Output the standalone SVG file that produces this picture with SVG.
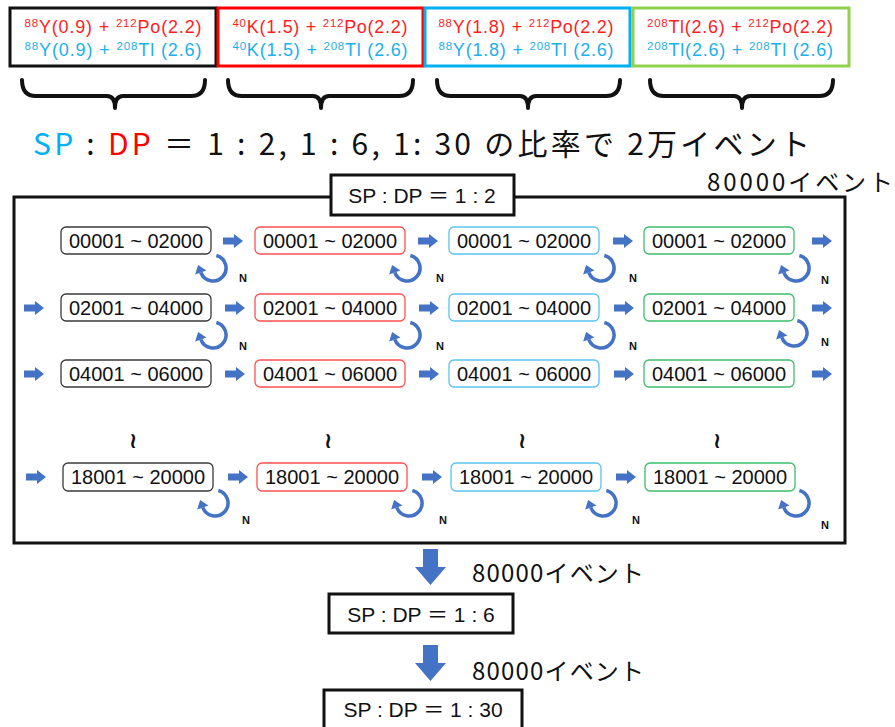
<svg xmlns="http://www.w3.org/2000/svg" xmlns:xlink="http://www.w3.org/1999/xlink" width="895" height="727" viewBox="0 0 895 727">
<style>
text{font-family:"Liberation Sans","Noto Sans CJK JP",sans-serif}
.jp{font-family:"Noto Sans CJK JP","Noto Sans",sans-serif}
.top{font-size:18px;text-anchor:middle}
.sup{font-size:11.5px}
.r{fill:#FF1E1E}
.b{fill:#1CB0EC}
.rng{font-size:20px;text-anchor:middle;fill:#111}
.nd{fill:#fff;stroke-width:1.3}
.c1{stroke:#3a3a3a}.c2{stroke:#FF5050}.c3{stroke:#5BC2F0}.c4{stroke:#3DBE6A}
.n{font-size:11px;font-weight:bold;text-anchor:middle;fill:#111}
.brace{fill:none;stroke:#111;stroke-width:4;stroke-linecap:round;stroke-linejoin:round}
.lbl{font-size:21px;text-anchor:middle;fill:#111}
.wave{font-size:22px;font-weight:bold;text-anchor:middle;fill:#111;font-family:"DejaVu Sans",sans-serif}
</style>
<defs>
<path id="ra" d="M0,-3.5 H11 V-7 L20,0 L11,7 V3.5 H0 Z" fill="#4472C4"/>
<g id="loop">
<path d="M3.36,-12.56 A13 13 0 1 1 -12.2,4.45" fill="none" stroke="#4472C4" stroke-width="3.5"/>
<polygon points="-14.9,-3.07 -6.56,2.4 -17.84,6.5" fill="#4472C4"/>
</g>
<path id="da" d="M8,0 H23 V18 H31 L15.5,36 L0,18 H8 Z" fill="#4472C4"/>
</defs>

<!-- top source boxes -->
<g id="src1">
<rect x="10" y="8" width="206" height="58" fill="#fff" stroke="#111" stroke-width="3"/>
<text class="top r" x="113" y="33" textLength="177" lengthAdjust="spacing"><tspan class="sup" dy="-6">88</tspan><tspan dy="6">Y(0.9) + </tspan><tspan class="sup" dy="-6">212</tspan><tspan dy="6">Po(2.2)</tspan></text>
<text class="top b" x="113" y="56" textLength="177" lengthAdjust="spacing"><tspan class="sup" dy="-6">88</tspan><tspan dy="6">Y(0.9) + </tspan><tspan class="sup" dy="-6">208</tspan><tspan dy="6">Tl (2.6)</tspan></text>
</g>
<g id="src2">
<rect x="218" y="8" width="205" height="58" fill="#fff" stroke="#FF0000" stroke-width="3"/>
<text class="top r" x="320" y="33" textLength="175" lengthAdjust="spacing"><tspan class="sup" dy="-6">40</tspan><tspan dy="6">K(1.5) + </tspan><tspan class="sup" dy="-6">212</tspan><tspan dy="6">Po(2.2)</tspan></text>
<text class="top b" x="320" y="56" textLength="175" lengthAdjust="spacing"><tspan class="sup" dy="-6">40</tspan><tspan dy="6">K(1.5) + </tspan><tspan class="sup" dy="-6">208</tspan><tspan dy="6">Tl (2.6)</tspan></text>
</g>
<g id="src3">
<rect x="425" y="8" width="205" height="58" fill="#fff" stroke="#00B0F0" stroke-width="3"/>
<text class="top r" x="526" y="33" textLength="175" lengthAdjust="spacing"><tspan class="sup" dy="-6">88</tspan><tspan dy="6">Y(1.8) + </tspan><tspan class="sup" dy="-6">212</tspan><tspan dy="6">Po(2.2)</tspan></text>
<text class="top b" x="526" y="56" textLength="175" lengthAdjust="spacing"><tspan class="sup" dy="-6">88</tspan><tspan dy="6">Y(1.8) + </tspan><tspan class="sup" dy="-6">208</tspan><tspan dy="6">Tl (2.6)</tspan></text>
</g>
<g id="src4">
<rect x="633" y="8" width="216" height="58" fill="#fff" stroke="#92D050" stroke-width="3"/>
<text class="top r" x="740" y="33" textLength="186" lengthAdjust="spacing"><tspan class="sup" dy="-6">208</tspan><tspan dy="6">Tl(2.6) + </tspan><tspan class="sup" dy="-6">212</tspan><tspan dy="6">Po(2.2)</tspan></text>
<text class="top b" x="740" y="56" textLength="186" lengthAdjust="spacing"><tspan class="sup" dy="-6">208</tspan><tspan dy="6">Tl(2.6) + </tspan><tspan class="sup" dy="-6">208</tspan><tspan dy="6">Tl (2.6)</tspan></text>
</g>

<!-- braces -->
<g id="braces">
<path class="brace" d="M22,80 Q22,96 36,96 H107 Q115,96 115,108 Q115,96 123,96 H191 Q205,96 205,80"/>
<path class="brace" d="M228,80 Q228,96 242,96 H313 Q321,96 321,108 Q321,96 329,96 H399 Q413,96 413,80"/>
<path class="brace" d="M437,80 Q437,96 451,96 H520 Q528,96 528,108 Q528,96 536,96 H606 Q620,96 620,80"/>
<path class="brace" d="M650,80 Q650,96 664,96 H734 Q742,96 742,108 Q742,96 750,96 H819 Q833,96 833,80"/>
</g>

<!-- title -->
<g id="title">
<text class="jp" x="33" y="155" font-size="30" fill="#111" textLength="777" lengthAdjust="spacing"><tspan fill="#00B0F0">SP</tspan> : <tspan fill="#FF0000">DP</tspan> ＝ 1 : 2, 1 : 6, 1: 30 の比率で 2万イベント</text>
</g>

<!-- main container -->
<g id="container">
<rect x="14" y="197" width="831" height="346" fill="none" stroke="#111" stroke-width="3"/>
</g>
<g id="label12">
<rect x="331" y="175" width="183" height="40" fill="#fff" stroke="#111" stroke-width="3"/>
<text class="lbl" x="422" y="203">SP : DP ＝ 1 : 2</text>
</g>
<text class="jp" x="707" y="191" font-size="24" fill="#111" textLength="186" lengthAdjust="spacing">80000イベント</text>

<!-- connectors -->
<g id="connectors">
<use xlink:href="#ra" x="223" y="241"/>
<use xlink:href="#ra" x="418" y="241"/>
<use xlink:href="#ra" x="613" y="241"/>
<use xlink:href="#ra" x="812" y="241"/>
<use xlink:href="#ra" x="24" y="308"/>
<use xlink:href="#ra" x="225" y="308"/>
<use xlink:href="#ra" x="419" y="308"/>
<use xlink:href="#ra" x="614" y="308"/>
<use xlink:href="#ra" x="812" y="308"/>
<use xlink:href="#ra" x="24" y="374"/>
<use xlink:href="#ra" x="225" y="374"/>
<use xlink:href="#ra" x="419" y="374"/>
<use xlink:href="#ra" x="614" y="374"/>
<use xlink:href="#ra" x="812" y="374"/>
<use xlink:href="#ra" x="26" y="477"/>
<use xlink:href="#ra" x="228" y="477"/>
<use xlink:href="#ra" x="422" y="477"/>
<use xlink:href="#ra" x="616" y="477"/>
<use xlink:href="#loop" x="213" y="268"/>
<use xlink:href="#loop" x="407" y="268"/>
<use xlink:href="#loop" x="601" y="268"/>
<use xlink:href="#loop" x="796" y="268"/>
<use xlink:href="#loop" x="213" y="335"/>
<use xlink:href="#loop" x="407" y="335"/>
<use xlink:href="#loop" x="601" y="335"/>
<use xlink:href="#loop" x="794" y="333"/>
<use xlink:href="#loop" x="215" y="503"/>
<use xlink:href="#loop" x="409" y="503"/>
<use xlink:href="#loop" x="603" y="503"/>
<use xlink:href="#loop" x="796" y="503"/>
<text class="n" x="243" y="282">N</text>
<text class="n" x="440" y="282">N</text>
<text class="n" x="633" y="282">N</text>
<text class="n" x="825" y="284">N</text>
<text class="n" x="243" y="350">N</text>
<text class="n" x="440" y="350">N</text>
<text class="n" x="633" y="350">N</text>
<text class="n" x="825" y="346">N</text>
<text class="n" x="246" y="524">N</text>
<text class="n" x="443" y="524">N</text>
<text class="n" x="636" y="524">N</text>
<text class="n" x="825" y="529">N</text>
<use xlink:href="#da" x="415" y="549"/>
<use xlink:href="#da" x="415" y="645"/>
</g>

<!-- nodes row 1 -->
<g id="r1c1"><rect class="nd c1" x="61" y="227" width="150" height="27" rx="5"/><text class="rng" x="136" y="248">00001 ~ 02000</text></g>
<g id="r1c2"><rect class="nd c2" x="255" y="227" width="150" height="27" rx="5"/><text class="rng" x="330" y="248">00001 ~ 02000</text></g>
<g id="r1c3"><rect class="nd c3" x="449" y="227" width="150" height="27" rx="5"/><text class="rng" x="524" y="248">00001 ~ 02000</text></g>
<g id="r1c4"><rect class="nd c4" x="644" y="227" width="150" height="27" rx="5"/><text class="rng" x="719" y="248">00001 ~ 02000</text></g>
<!-- row 2 -->
<g id="r2c1"><rect class="nd c1" x="61" y="294" width="150" height="27" rx="5"/><text class="rng" x="136" y="315">02001 ~ 04000</text></g>
<g id="r2c2"><rect class="nd c2" x="255" y="294" width="150" height="27" rx="5"/><text class="rng" x="330" y="315">02001 ~ 04000</text></g>
<g id="r2c3"><rect class="nd c3" x="449" y="294" width="150" height="27" rx="5"/><text class="rng" x="524" y="315">02001 ~ 04000</text></g>
<g id="r2c4"><rect class="nd c4" x="644" y="294" width="150" height="27" rx="5"/><text class="rng" x="719" y="315">02001 ~ 04000</text></g>
<!-- row 3 -->
<g id="r3c1"><rect class="nd c1" x="61" y="360" width="150" height="27" rx="5"/><text class="rng" x="136" y="381">04001 ~ 06000</text></g>
<g id="r3c2"><rect class="nd c2" x="255" y="360" width="150" height="27" rx="5"/><text class="rng" x="330" y="381">04001 ~ 06000</text></g>
<g id="r3c3"><rect class="nd c3" x="449" y="360" width="150" height="27" rx="5"/><text class="rng" x="524" y="381">04001 ~ 06000</text></g>
<g id="r3c4"><rect class="nd c4" x="644" y="360" width="150" height="27" rx="5"/><text class="rng" x="719" y="381">04001 ~ 06000</text></g>
<!-- ellipsis marks -->
<g id="waves">
<text class="wave" x="133" y="448">≀</text>
<text class="wave" x="328" y="448">≀</text>
<text class="wave" x="522" y="448">≀</text>
<text class="wave" x="717" y="448">≀</text>
</g>
<!-- row 4 -->
<g id="r4c1"><rect class="nd c1" x="63" y="463" width="150" height="28" rx="5"/><text class="rng" x="138" y="484">18001 ~ 20000</text></g>
<g id="r4c2"><rect class="nd c2" x="257" y="463" width="150" height="28" rx="5"/><text class="rng" x="332" y="484">18001 ~ 20000</text></g>
<g id="r4c3"><rect class="nd c3" x="451" y="463" width="150" height="28" rx="5"/><text class="rng" x="526" y="484">18001 ~ 20000</text></g>
<g id="r4c4"><rect class="nd c4" x="645" y="463" width="150" height="28" rx="5"/><text class="rng" x="720" y="484">18001 ~ 20000</text></g>

<!-- bottom stages -->
<text class="jp" x="472" y="582" font-size="24" fill="#111" textLength="172" lengthAdjust="spacing">80000イベント</text>
<g id="label16">
<rect x="329" y="594" width="184" height="39" fill="#fff" stroke="#111" stroke-width="3"/>
<text class="lbl" x="421" y="622">SP : DP ＝ 1 : 6</text>
</g>
<text class="jp" x="472" y="680" font-size="24" fill="#111" textLength="172" lengthAdjust="spacing">80000イベント</text>
<g id="label130">
<rect x="324" y="690" width="198" height="42" fill="#fff" stroke="#111" stroke-width="3"/>
<text class="lbl" x="423" y="717">SP : DP ＝ 1 : 30</text>
</g>
</svg>
